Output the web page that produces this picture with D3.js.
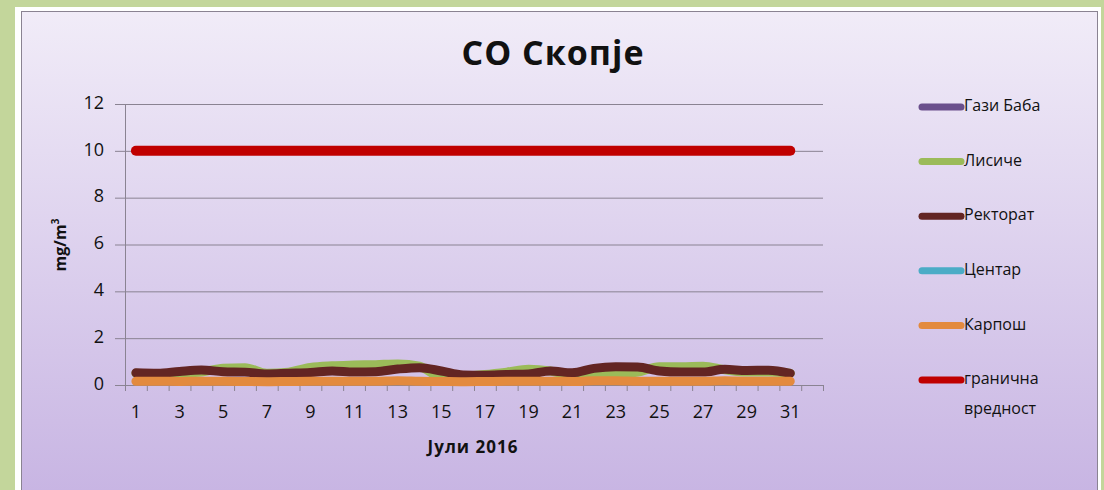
<!DOCTYPE html>
<html>
<head>
<meta charset="utf-8">
<script src="https://cdn.jsdelivr.net/npm/d3@7"></script>
<style>
  body { margin: 0; background: #c3d69b; }
  svg { display: block; }
  text { font-family: "Open Sans", "DejaVu Sans", sans-serif; fill: #111; }
</style>
</head>
<body>
<div id="chart"></div>
<script>
var width = 1104,
    height = 490;

// category axis: 32 slots, data for days 1..31
var days = d3.range(1, 33).map(String);
var tickDays = ["1","3","5","7","9","11","13","15","17","19","21","23","25","27","29","31"];
var yTicks = [0, 2, 4, 6, 8, 10, 12];

var names = ["Гази Баба", "Лисиче", "Ректорат", "Центар", "Карпош", "гранична вредност"];
var colors = ["#6a4f8c", "#9bbb59", "#632523", "#4bacc6", "#e38a3e", "#c00000"];

// no measurements shown for these stations
var gaziBaba = [null,null,null,null,null,null,null,null,null,null,null,null,null,null,null,null,null,null,null,null,null,null,null,null,null,null,null,null,null,null,null];
var lisice = [0.5,0.45,0.5,0.55,0.72,0.74,0.5,0.55,0.75,0.82,0.85,0.87,0.9,0.8,0.35,0.38,0.45,0.55,0.67,0.6,0.42,0.45,0.45,0.55,0.78,0.78,0.8,0.65,0.55,0.55,0.5];
var rektorat = [0.52,0.5,0.58,0.64,0.57,0.55,0.47,0.5,0.53,0.6,0.55,0.57,0.68,0.74,0.6,0.43,0.42,0.45,0.47,0.6,0.52,0.71,0.78,0.77,0.6,0.55,0.55,0.67,0.62,0.63,0.5];
var centar = [null,null,null,null,null,null,null,null,null,null,null,null,null,null,null,null,null,null,null,null,null,null,null,null,null,null,null,null,null,null,null];
var karpos = [0.16,0.16,0.15,0.16,0.16,0.15,0.14,0.15,0.16,0.16,0.16,0.16,0.18,0.16,0.15,0.14,0.15,0.16,0.16,0.16,0.15,0.18,0.18,0.16,0.16,0.16,0.16,0.18,0.16,0.16,0.16];
var limit = [10,10,10,10,10,10,10,10,10,10,10,10,10,10,10,10,10,10,10,10,10,10,10,10,10,10,10,10,10,10,10];

var series = [gaziBaba, lisice, rektorat, centar, karpos, limit];

var svg = d3.select("#chart").append("svg")
    .attr("width", width)
    .attr("height", height);

var defs = svg.append("defs");
var grad = defs.append("linearGradient")
    .attr("id", "bg").attr("x1", 0).attr("y1", 0).attr("x2", 0).attr("y2", 1);
grad.append("stop").attr("offset", "0%").attr("stop-color", "#f1ecf8");
grad.append("stop").attr("offset", "100%").attr("stop-color", "#c8b5e3");

svg.append("rect")
    .attr("x", 15).attr("y", 7)
    .attr("width", 1086).attr("height", 490)
    .attr("fill", "#ffffff");
svg.append("rect")
    .attr("x", 21.5).attr("y", 11.5)
    .attr("width", 1076).attr("height", 480)
    .attr("fill", "url(#bg)")
    .attr("stroke", "#8a8392");

var plot = {left: 125, right: 823, top: 104, bottom: 385};

var x = d3.scaleBand().domain(days).range([plot.left, plot.right]).padding(0);
var xEdge = d3.scaleLinear().domain([0, 32]).range([plot.left, plot.right]);
var y = d3.scaleLinear().domain([0, 12]).range([plot.bottom, plot.top]);

// grid lines + y ticks
svg.append("g")
    .attr("transform", "translate(" + plot.left + ",0)")
    .call(d3.axisLeft(y).tickValues(yTicks).tickSize(10).tickFormat(""))
    .call(function(g) {
        g.select(".domain").attr("stroke", "#8a8392");
        g.selectAll(".tick line").attr("stroke", "#8a8392");
    });
svg.append("g")
    .selectAll("line")
    .data(yTicks.filter(function(d) { return d > 0; }))
    .join("line")
    .attr("x1", plot.left).attr("x2", plot.right)
    .attr("y1", function(d) { return y(d) + 0.5; })
    .attr("y2", function(d) { return y(d) + 0.5; })
    .attr("stroke", "#8a8392");

svg.append("g")
    .selectAll("text")
    .data(yTicks)
    .join("text")
    .attr("x", 104)
    .attr("y", function(d) { return y(d); })
    .attr("text-anchor", "end")
    .attr("dominant-baseline", "middle")
    .style("font-size", "18px")
    .text(function(d) { return d; });

// x axis: ticks at category edges
svg.append("g")
    .attr("transform", "translate(0," + plot.bottom + ")")
    .call(d3.axisBottom(xEdge).tickValues(d3.range(0, 33)).tickSize(6).tickFormat("").tickSizeOuter(0))
    .call(function(g) {
        g.select(".domain").attr("stroke", "#8a8392");
        g.selectAll(".tick line").attr("stroke", "#8a8392");
    });

svg.append("g")
    .selectAll("text")
    .data(tickDays)
    .join("text")
    .attr("x", function(d) { return x(d) + x.bandwidth() / 2; })
    .attr("y", 413)
    .attr("text-anchor", "middle")
    .attr("dominant-baseline", "middle")
    .style("font-size", "18px")
    .text(function(d) { return d; });

// axis titles
svg.append("text")
    .attr("x", 473).attr("y", 448)
    .attr("text-anchor", "middle")
    .attr("dominant-baseline", "middle")
    .style("font-size", "17px").style("font-weight", "bold")
    .style("letter-spacing", "1px")
    .text("Јули 2016");

var yt = svg.append("text")
    .attr("transform", "translate(62,245) rotate(-90)")
    .attr("text-anchor", "middle")
    .attr("dominant-baseline", "middle")
    .style("font-size", "16px").style("font-weight", "bold");
yt.append("tspan").text("mg/m");
yt.append("tspan").attr("dy", -6).style("font-size", "10px").text("3");

// title
svg.append("text")
    .attr("x", 553).attr("y", 56)
    .attr("text-anchor", "middle")
    .attr("dominant-baseline", "middle")
    .style("font-size", "34px").style("font-weight", "bold")
    .style("letter-spacing", "1px")
    .text("CO Скопје");

// lines
var line = d3.line()
    .defined(function(d) { return d != null; })
    .x(function(d, i) { return x(days[i]) + x.bandwidth() / 2; })
    .y(function(d) { return y(d); })
    .curve(d3.curveMonotoneX);

svg.append("g")
    .selectAll("path")
    .data(series)
    .join("path")
    .attr("fill", "none")
    .attr("d", function(d) { return line(d); })
    .attr("stroke", function(d, i) { return colors[i]; })
    .attr("stroke-width", function(d, i) { return i === 5 ? 10 : 9; })
    .attr("stroke-linecap", "round")
    .attr("stroke-linejoin", "round");

// legend
var leg = svg.append("g")
    .selectAll("g")
    .data(names)
    .join("g")
    .attr("transform", function(d, i) { return "translate(0," + (107 + i * 54.6) + ")"; });

leg.append("line")
    .attr("x1", 922).attr("x2", 961)
    .attr("stroke", function(d, i) { return colors[i]; })
    .attr("stroke-width", 7)
    .attr("stroke-linecap", "round");

leg.append("text")
    .attr("x", 964)
    .attr("dominant-baseline", "middle")
    .style("font-size", "16px")
    .each(function(d) {
        var parts = d.split(" ");
        var t = d3.select(this);
        if (parts.length > 1 && d.length > 12) {
            t.append("tspan").attr("x", 964).text(parts[0]);
            t.append("tspan").attr("x", 964).attr("dy", 30).text(parts[1]);
        } else {
            t.text(d);
        }
    });
</script>
</body>
</html>
